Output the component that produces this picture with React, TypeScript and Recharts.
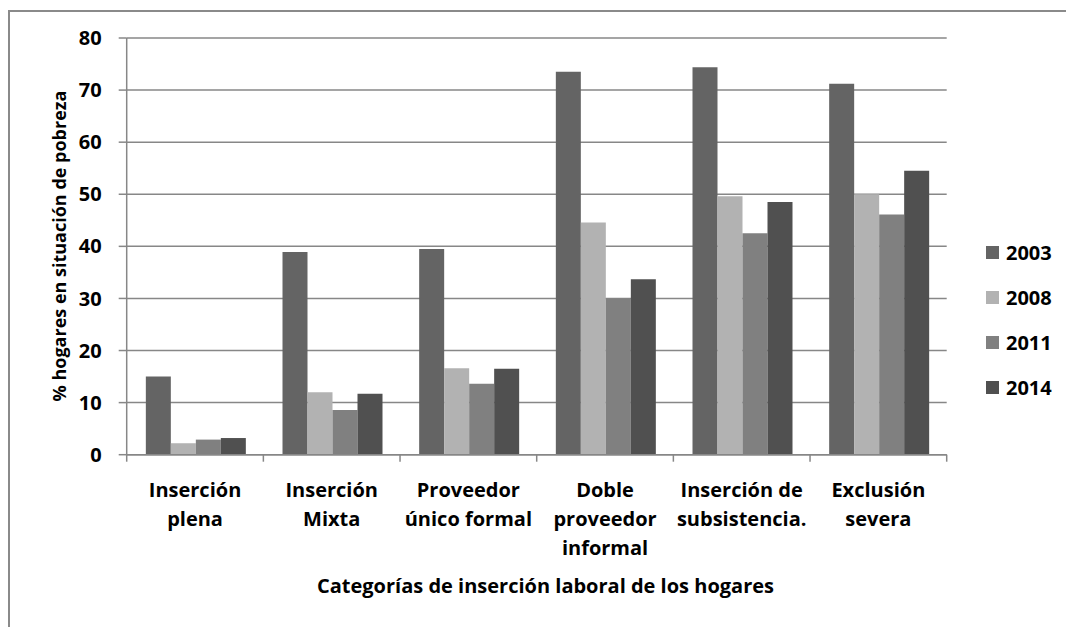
import { BarChart, Bar, XAxis, YAxis, CartesianGrid, Legend } from "recharts";

const categories = [
  "Inserción\nplena",
  "Inserción\nMixta",
  "Proveedor\núnico formal",
  "Doble\nproveedor\ninformal",
  "Inserción de\nsubsistencia.",
  "Exclusión\nsevera",
];
const years = ["2003", "2008", "2011", "2014"];
const values2003 = [15.0, 38.9, 39.5, 73.5, 74.4, 71.2];
const values2008 = [2.2, 12.0, 16.6, 44.6, 49.6, 50.0];
const values2011 = [2.9, 8.6, 13.6, 30.0, 42.5, 46.1];
const values2014 = [3.2, 11.7, 16.5, 33.7, 48.5, 54.5];
const yTicks = [0, 10, 20, 30, 40, 50, 60, 70, 80];

const yTitle = "% hogares en situación de pobreza";
const xTitle = "Categorías de inserción laboral de los hogares";

const colors = ["#646464", "#b2b2b2", "#808080", "#505050"];
const gray = "#878787";
const font = "'Open Sans', sans-serif";

const data = categories.map((name, i) => ({
  name,
  "2003": values2003[i],
  "2008": values2008[i],
  "2011": values2011[i],
  "2014": values2014[i],
}));

// ticks sit between categories (Excel style), labels are multi-line
const CategoryTick = (props: any) => {
  const { x, y, payload, index } = props;
  const half = payload?.offset || 68.33;
  const lines = String(payload.value).split("\n");
  return (
    <g>
      <line x1={x - half} y1={y - 8} x2={x - half} y2={y - 1} stroke={gray} strokeWidth={1.5} />
      {index === categories.length - 1 && (
        <line x1={x + half} y1={y - 8} x2={x + half} y2={y - 1} stroke={gray} strokeWidth={1.5} />
      )}
      <text
        x={x}
        y={y}
        textAnchor="middle"
        fontFamily={font}
        fontWeight="bold"
        fontSize={20}
        fill="#000"
      >
        {lines.map((l, i) => (
          <tspan key={i} x={x} dy={i === 0 ? 34 : 29}>
            {l}
          </tspan>
        ))}
      </text>
    </g>
  );
};

const renderLegend = () => (
  <div style={{ fontFamily: font, fontWeight: "bold", fontSize: 20, color: "#000" }}>
    {years.map((yr, i) => (
      <div key={yr} style={{ display: "flex", alignItems: "center", height: 45 }}>
        <span
          style={{
            display: "inline-block",
            width: 13,
            height: 13,
            background: colors[i],
            marginRight: 7,
          }}
        />
        <span>{yr}</span>
      </div>
    ))}
  </div>
);

export default function App() {
  return (
    <div style={{ position: "relative", width: 1066, height: 619, overflow: "hidden" }}>
      <div
        style={{
          position: "absolute",
          left: 0,
          top: 2,
          width: 1200,
          height: 800,
          borderLeft: "2px solid #8a8a8a",
          borderTop: "2px solid #8a8a8a",
        }}
      />
      <BarChart
        width={1066}
        height={619}
        data={data}
        margin={{ top: 30, right: 127.3, bottom: 72.3, left: 0 }}
        barCategoryGap="14%"
        barGap={0}
      >
        <CartesianGrid vertical={false} stroke={gray} strokeWidth={1.5} />
        <XAxis
          dataKey="name"
          height={100}
          interval={0}
          axisLine={{ stroke: gray, strokeWidth: 1.5 }}
          tickLine={false}
          tick={<CategoryTick />}
          label={{
            content: () => (
              <text
                x={537.5}
                y={585}
                textAnchor="middle"
                fontFamily={font}
                fontWeight="bold"
                fontSize={20}
                fill="#000"
              >
                {xTitle}
              </text>
            ),
          }}
        />
        <YAxis
          width={118.7}
          domain={[0, 80]}
          ticks={yTicks}
          interval={0}
          tickSize={8}
          tickMargin={17}
          axisLine={{ stroke: gray, strokeWidth: 1.5 }}
          tickLine={{ stroke: gray, strokeWidth: 1.5 }}
          tick={{ fontFamily: font, fontWeight: "bold", fontSize: 20, fill: "#000" }}
          label={{
            content: () => (
              <text
                x={51}
                y={238}
                transform="rotate(-90 51 238)"
                textAnchor="middle"
                dominantBaseline="central"
                fontFamily={font}
                fontWeight="bold"
                fontSize={18}
                fill="#000"
              >
                {yTitle}
              </text>
            ),
          }}
        />
        <Legend
          layout="vertical"
          align="center"
          verticalAlign="middle"
          wrapperStyle={{ left: 978, top: 222, width: 90, height: 180 }}
          content={renderLegend}
        />
        {years.map((yr, i) => (
          <Bar key={yr} dataKey={yr} fill={colors[i]} isAnimationActive={false} />
        ))}
      </BarChart>
    </div>
  );
}
